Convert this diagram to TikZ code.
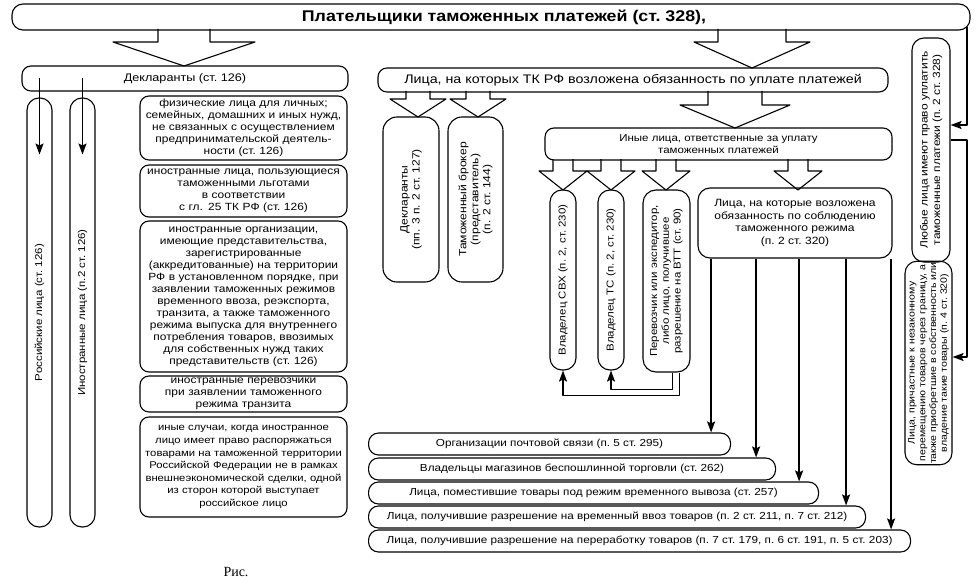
\documentclass[tikz,border=0pt]{standalone}
\usepackage{fontspec}
\setmainfont{Liberation Sans}[FakeStretch=1.15]
\newfontfamily\capfont{Liberation Serif}
\usetikzlibrary{arrows.meta}
\tikzset{
  box/.style={draw, line width=1.1pt, rounded corners=9pt, align=center, inner sep=1pt},
  pill/.style={box, rotate=90},
  conn/.style={line width=1.6pt},
  blk/.style={line width=1.1pt}
}
% block arrow: x, top, neck, tip, stem half width, head half width
\newcommand\blkarrow[6]{%
  \draw[blk] (#1-#5,#2)--(#1-#5,#3)--(#1-#6,#3)--(#1,#4)--(#1+#6,#3)--(#1+#5,#3)--(#1+#5,#2);}

\begin{document}
\begin{tikzpicture}[x=1pt, y=-1pt, font=\fontsize{10}{11.8}\selectfont, line join=round, >={Stealth[length=11pt,width=8pt,inset=2pt]}]
\useasboundingbox (0,0) rectangle (979,583);
% top level
\node[box, rounded corners=11pt, minimum width=958pt, minimum height=26pt, font=\fontsize{15.5}{17}\selectfont\bfseries] (banner) at (491,17) {\hspace*{26pt}Плательщики таможенных платежей (ст.~328),};
\node[box, minimum width=326pt, minimum height=25pt, font=\fontsize{11}{13}\selectfont] (decl) at (185,78.5) {Декларанты (ст.~126)};
\node[box, minimum width=510pt, minimum height=24pt, font=\fontsize{12.4}{14}\selectfont] (duty) at (633,80) {Лица, на которых ТК РФ возложена обязанность по уплате платежей};
\blkarrow{184}{29}{42}{66}{26}{71}
\blkarrow{752}{29}{42}{68}{34}{58}

% declarants
\node[pill, rounded corners=12pt, minimum width=429pt, minimum height=25pt] (rus) at (39.5,312.5) {Российские лица (ст.~126)};
\node[pill, rounded corners=12pt, minimum width=429pt, minimum height=25pt] (frn) at (82.5,312.5) {Иностранные лица (п.2 ст.~126)};
\foreach \p in {rus,frn}
  \draw[conn,->] (decl.center -| \p.center) -- ++(0,76);

\begin{scope}[every node/.append style={font=\fontsize{10.4}{12}\selectfont}]
\node[box, minimum width=207pt, minimum height=64pt, text width=205pt] (L1) at (243.5,128) {физические лица для личных;\\семейных, домашних и иных нужд,\\не связанных с осуществлением\\предпринимательской деятель-\\ности (ст.~126)};
\node[box, minimum width=207pt, minimum height=52pt, text width=205pt] (L2) at (243.5,191) {иностранные лица, пользующиеся\\таможенными льготами\\в соответствии\\с гл. 25 ТК РФ (ст.~126)};
\node[box, minimum width=207pt, minimum height=151pt, text width=205pt] (L3) at (243.5,296.5) {иностранные организации,\\имеющие представительства,\\зарегистрированные\\(аккредитованные) на территории\\РФ в установленном порядке, при\\заявлении таможенных режимов\\временного ввоза, реэкспорта,\\транзита, а также таможенного\\режима выпуска для внутреннего\\потребления товаров, ввозимых\\для собственных нужд таких\\представительств (ст.~126)};
\node[box, minimum width=207pt, minimum height=36pt, text width=205pt] (L4) at (243.5,394) {иностранные перевозчики\\при заявлении таможенного\\режима транзита};
\node[box, minimum width=207pt, minimum height=100pt, text width=205pt, font=\fontsize{9.8}{12.6}\selectfont] (L5) at (243.5,467) {иные случаи, когда иностранное\\лицо имеет право распоряжаться\\товарами на таможенной территории\\Российской Федерации не в рамках\\внешнеэкономической сделки, одной\\из сторон которой выступает\\российское лицо};
\end{scope}

% persons with the duty
\blkarrow{418}{91}{99}{117}{12}{28}
\blkarrow{478}{91}{99}{117}{12}{28}
\node[pill, rounded corners=14pt, minimum width=165pt, minimum height=56pt, font=\fontsize{10.5}{12}\selectfont] (dcl) at (411,199.5) {Декларанты\\(пп. 3 п. 2 ст.~127)};
\node[pill, rounded corners=14pt, minimum width=165pt, minimum height=55pt, font=\fontsize{10.5}{12}\selectfont] (brk) at (475.5,199.5) {Таможенный брокер\\(представитель)\\(п. 2 ст.~144)};

\blkarrow{735}{91}{105}{128}{27}{55}
\node[box, minimum width=347pt, minimum height=32pt] (oth) at (718.5,144) {Иные лица, ответственные за уплату\\таможенных платежей};
\foreach \x in {563,611,666,798}
  {\blkarrow{\x}{159}{171}{190}{10}{24}}
\node[pill, rounded corners=12pt, minimum width=180pt, minimum height=26pt] (svh) at (563,280) {Владелец СВХ (п.~2, ст.~230)};
\node[pill, rounded corners=12pt, minimum width=180pt, minimum height=26pt] (ts) at (611,280) {Владелец ТС (п.~2, ст.~230)};
\node[pill, rounded corners=13pt, minimum width=182pt, minimum height=47pt] (carr) at (666.5,281) {Перевозчик или экспедитор,\\либо лицо, получившее\\разрешение на ВТТ (ст.~90)};
\node[box, rounded corners=12pt, minimum width=194pt, minimum height=70pt, font=\fontsize{10.5}{12.5}\selectfont] (obl) at (795,223) {Лица, на которые возложена\\обязанность по соблюдению\\таможенного режима\\(п.~2 ст.~320)};

\draw[conn,->] (carr.west) ++(13,0) -- ++(0,23) -| (svh.west);
\draw[conn,->] (carr.west) ++(6,0) -- ++(0,17) -| (ts.west);

% bottom list
\foreach \i/\r/\y/\t in {1/730/444/{Организации почтовой связи (п.~5 ст.~295)},
  2/775/469/{Владельцы магазинов беспошлинной торговли (ст.~262)},
  3/818/493/{Лица, поместившие товары под режим временного вывоза (ст.~257)},
  4/865/517/{Лица, получившие разрешение на временный ввоз товаров (п.~2 ст.~211, п.~7 ст.~212)},
  5/910/541/{Лица, получившие разрешение на переработку товаров (п.~7 ст.~179, п.~6 ст.~191, п.~5 ст.~203)}}
{
  \node[box, rounded corners=10pt, anchor=west, minimum width={(\r-368)*1pt}, minimum height=22pt, font=\fontsize{10.2}{12}\selectfont] (R\i) at (368,\y) {\t};
  \path ([xshift=-20pt]R\i.north east) coordinate (t\i);
  \draw[conn,->] (obl.south -| t\i) -- (t\i);
}

% right side
\node[pill, rounded corners=12pt, minimum width=224pt, minimum height=38pt, font=\fontsize{10.4}{12.5}\selectfont] (any) at (931,150) {Любые лица имеют право уплатить\\таможенные платежи (п.~2 ст.~328)};
\node[pill, rounded corners=12pt, minimum width=186pt, minimum height=47pt, font=\fontsize{9.2}{10.8}\selectfont] (ill) at (928.5,363) {Лица, причастные к незаконному\\перемещению товаров через границу, а\\также приобретшие в собственность или\\владение такие товары (п.~4 ст.~320)};
\coordinate (rx) at (967,0);
\path ([yshift=25pt]any.south) coordinate (a1) ([yshift=10pt]any.south) coordinate (a2) ([yshift=6pt]ill.south) coordinate (i1);
\draw[conn,->,shorten <=-4pt] (banner.south -| rx) |- (a1);
\draw[conn,->] (a2) -| (i1 -| rx) -- (i1);

\node[font=\capfont\fontsize{14}{16}\selectfont] (cap) at (236,572) {Рис.};
\end{tikzpicture}
\end{document}
